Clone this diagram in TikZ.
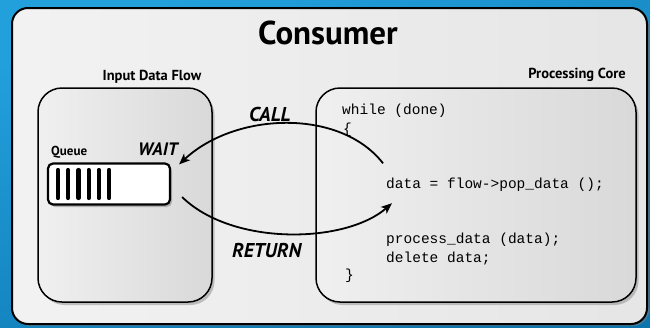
\documentclass[tikz,border=0pt]{standalone}
\usepackage{fontspec}
\setmonofont{Liberation Mono}
\newfontfamily\labelfont{PT Sans}
\usetikzlibrary{arrows.meta,shadows}

\definecolor{skyblue}{HTML}{22A0DC}
\definecolor{deepblue}{HTML}{0C74AE}

\begin{document}
\begin{tikzpicture}[x=1pt,y=-1pt,
    panel/.style={draw=black,line width=1.5pt,rounded corners=24pt,
      left color=black!6,right color=black!15,
      drop shadow={shadow xshift=2.5pt,shadow yshift=-3pt,opacity=.45}},
    head/.style={font=\labelfont\bfseries\fontsize{14.5}{16}\selectfont,anchor=base},
    flow/.style={font=\labelfont\bfseries\itshape\fontsize{20}{22}\selectfont,anchor=base west},
    code/.style={font=\ttfamily\fontsize{14.5}{17}\selectfont,anchor=base west,inner sep=0pt},
    link/.style={line width=1.8pt,-{Stealth[length=11pt,width=9pt,inset=3pt]}}]
  \useasboundingbox (0,0) rectangle (650,327);
  \shade[top color=skyblue,bottom color=deepblue,shading angle=20] (0,0) rectangle (650,327);

  % outer panel
  \draw[line width=2pt,rounded corners=16pt,left color=black!5,right color=black!10,
    drop shadow={shadow xshift=2pt,shadow yshift=-2pt,opacity=.5}] (12,8) rectangle (647,324);
  \node[font=\labelfont\bfseries\fontsize{33}{36}\selectfont,anchor=base] (title) at (328,44) {Consumer};

  % the two sides
  \node[head] (inlabel) at (152,80) {Input Data Flow};
  \node[head] (corelabel) at (577,78) {Processing Core};
  \draw[panel] (38,88) rectangle (212,302);
  \draw[panel] (316,88) rectangle (636,302);

  % queue
  \node[font=\labelfont\bfseries\fontsize{13}{15}\selectfont,anchor=base west,inner sep=0pt] (qlabel) at (51,155) {Queue};
  \node[flow,inner sep=0pt,font=\labelfont\bfseries\itshape\fontsize{18}{20}\selectfont] (wait) at (138,155) {WAIT};
  \node[draw=black,line width=2.2pt,fill=white,rounded corners=5pt,minimum width=122pt,minimum height=41pt,
    drop shadow={shadow xshift=2pt,shadow yshift=-2.5pt,opacity=.5}] (queue) at (109,184) {};
  \foreach \i in {0,...,5}
    \draw[line width=4.2pt,line cap=round] (58+10.2*\i,170) -- (58+10.2*\i,198);

  % code in the core
  \node[code] (loop) at (342,114) {while (done)};
  \node[code] (open) at (343,133) {\{};
  \node[code] (pop) at (386,188) {data = flow->pop\_data ();};
  \node[code] (proc) at (386,243) {process\_data (data);};
  \node[code] (del) at (386,262) {delete data;};
  \node[code] (close) at (345,279) {\}};

  % call and return
  \coordinate (callfrom) at ([xshift=-3pt,yshift=14pt]pop.north west);
  \coordinate (callto) at ([xshift=8pt,yshift=-2pt]queue.north east);
  \coordinate (retfrom) at ([xshift=11pt,yshift=-13pt]queue.east);
  \coordinate (retto) at ([xshift=6pt,yshift=-12pt]pop.south west);
  \draw[link] (callfrom) .. controls (340,108) and (235,112) .. (callto);
  \draw[link] (retfrom) .. controls (232,246) and (345,244) .. (retto);
  \node[flow,inner sep=0pt] (call) at (249,121) {CALL};
  \node[flow,inner sep=0pt] (ret) at (232,257) {RETURN};
\end{tikzpicture}
\end{document}
